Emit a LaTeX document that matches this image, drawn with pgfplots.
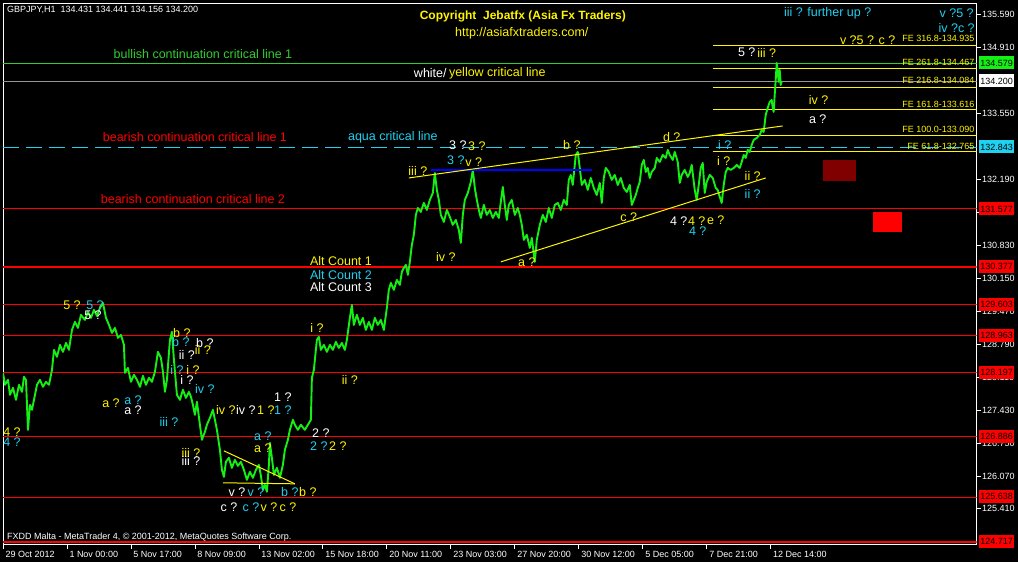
\documentclass[border=0pt]{standalone}
\usepackage{pgfplots}
\pgfplotsset{compat=1.18}
\usepackage{pgfplotstable}
\usepackage{fontspec}
\setmainfont{Liberation Sans}

\definecolor{mtgreen}{RGB}{20,240,20}
\definecolor{lgreen}{RGB}{50,205,50}
\definecolor{mtaqua}{RGB}{30,210,240}
\definecolor{mtyellow}{RGB}{255,245,0}
\definecolor{mtred}{RGB}{255,0,0}
\definecolor{mtgrey}{RGB}{150,150,150}
\definecolor{mtmaroon}{RGB}{128,0,0}
\definecolor{mtblue}{RGB}{0,0,255}

\newcommand\fa{\fontsize{12.5}{14}\selectfont}
\newcommand\fs{\fontsize{9}{10.5}\selectfont}

% GBPJPY H1, bar index (one pixel per bar) and price
\pgfplotstableread{
x p
3 128.197
5 127.950
8 128.053
10 127.744
13 127.888
16 127.641
19 127.950
22 127.806
24 128.115
26 128.053
28 127.023
30 127.538
32 127.435
35 127.744
37 127.950
40 128.053
43 127.909
46 128.012
49 127.950
52 128.259
54 128.670
57 128.526
60 128.773
63 128.629
66 128.814
69 128.670
72 129.082
75 129.247
78 129.123
81 129.391
85 129.288
88 129.453
91 129.329
94 129.494
97 129.370
100 129.535
103 129.638
106 129.329
109 129.185
112 129.020
115 129.123
118 128.917
121 128.979
124 128.773
125 128.197
128 128.300
131 128.012
134 128.156
137 128.053
140 127.909
143 128.135
146 127.950
149 128.094
152 128.012
155 128.218
158 128.629
161 128.505
163 128.218
165 127.806
167 128.053
170 128.876
172 129.041
174 128.465
177 127.744
180 127.641
183 127.847
186 127.682
189 127.806
191 127.703
193 127.538
195 127.332
197 127.600
200 127.126
202 126.817
205 126.982
207 127.126
210 127.270
213 127.435
215 127.229
217 127.023
220 126.611
222 126.199
224 126.055
226 126.364
229 126.446
232 126.240
235 126.405
238 126.281
241 126.364
244 126.199
247 125.993
250 126.158
253 126.034
256 126.199
259 126.302
261 126.075
263 125.788
265 125.890
267 125.747
269 126.302
270 126.755
272 126.446
274 126.096
277 126.240
280 126.034
283 126.302
285 126.611
288 126.817
290 127.023
293 127.229
295 127.126
298 127.023
301 127.126
305 127.023
308 127.126
311 127.229
312 128.094
314 128.259
317 128.876
319 128.938
321 128.670
324 128.773
327 128.629
330 128.773
333 128.670
336 128.835
339 128.711
342 128.814
345 128.670
347 128.876
350 129.329
352 129.597
354 129.185
357 129.391
360 129.185
363 129.329
366 129.082
369 129.247
372 129.082
375 129.329
378 129.185
381 129.288
384 129.082
387 129.535
389 129.906
391 130.050
394 129.906
397 130.112
400 130.009
402 130.277
404 130.359
406 130.421
408 130.215
410 130.483
412 130.833
414 131.039
416 131.450
418 131.594
421 131.512
424 131.697
427 131.553
430 131.759
433 131.903
435 132.315
437 131.965
439 131.759
441 131.450
444 131.306
447 131.553
450 131.409
453 131.244
456 131.347
459 131.142
461 130.874
463 131.450
465 131.759
468 131.903
471 132.130
473 132.377
475 132.006
477 131.759
479 131.553
481 131.388
484 131.656
487 131.450
490 131.553
493 131.388
496 131.512
499 131.388
501 131.718
503 132.027
505 131.656
507 131.347
509 131.656
512 131.759
515 131.450
518 131.594
520 131.450
522 131.244
524 130.936
527 131.039
530 130.771
532 130.977
535 130.483
537 130.936
540 131.244
543 131.450
546 131.306
549 131.594
552 131.388
555 131.656
558 131.697
561 131.553
564 131.759
567 131.656
569 132.171
571 132.274
573 132.068
576 132.686
578 132.748
580 132.418
582 132.068
585 132.171
588 131.965
591 132.212
594 132.006
597 131.862
600 132.109
602 131.697
604 132.212
606 132.418
609 132.336
612 132.171
615 132.274
618 132.068
621 132.212
624 132.006
627 131.924
630 132.068
632 131.656
634 131.759
636 131.862
638 132.006
640 132.130
642 132.480
644 132.583
646 132.336
648 132.418
650 132.212
652 132.336
655 132.418
657 132.624
660 132.542
663 132.686
666 132.624
668 132.789
670 132.686
673 132.583
675 132.748
678 132.542
680 132.109
682 132.274
685 132.377
688 132.233
690 132.315
692 132.480
695 131.965
697 131.759
699 132.068
701 132.418
703 132.521
705 131.903
707 132.130
710 132.274
713 132.212
716 132.006
718 131.965
720 131.821
722 131.697
724 132.068
726 132.336
728 132.418
731 132.377
734 132.418
737 132.480
740 132.418
742 132.542
744 132.686
746 132.624
748 132.789
750 132.748
752 132.892
754 132.995
757 133.036
760 133.098
762 133.201
764 133.160
766 133.510
768 133.654
770 133.778
772 133.819
773 133.654
774 133.572
775 133.922
776 134.231
777 134.581
778 134.396
779 134.190
780 134.437
781 134.128
782 134.200
}\pricedata

\begin{document}
\begin{tikzpicture}
\fill[black] (-3pt,-17pt) rectangle (1015pt,545pt);
\begin{axis}[
  at={(0,0)}, anchor=south west,
  scale only axis, width=974pt, height=542pt,
  xmin=3, xmax=977, ymin=124.655, ymax=135.816,
  axis line style={white, line width=0.8pt},
  tick align=outside, major tick length=4pt,
  tick style={white, line width=0.8pt},
  xtick pos=left, ytick pos=right, yticklabel pos=right,
  xtick={3,67,131,195,259,323,387,451,515,579,643,707,771},
  xticklabels={29 Oct 2012,1 Nov 00:00,5 Nov 17:00,8 Nov 09:00,13 Nov 02:00,15 Nov 18:00,20 Nov 11:00,23 Nov 03:00,27 Nov 20:00,30 Nov 12:00,5 Dec 05:00,7 Dec 21:00,12 Dec 14:00},
  xticklabel style={white, anchor=north west, font=\fs, xshift=-1pt, yshift=1pt},
  ytick={135.59,134.91,133.55,132.19,131.51,130.83,130.15,129.47,128.79,128.11,127.43,126.75,126.07,125.41},
  yticklabel style={white, anchor=west, font=\fs, xshift=-2pt,
    /pgf/number format/fixed, /pgf/number format/precision=3,
    /pgf/number format/fixed zerofill},
  /pgf/number format/assume math mode=true,
]
% horizontal critical lines
\addplot[lgreen, line width=1pt] coordinates {(3,134.579) (977,134.579)};
\addplot[mtgrey, line width=1pt] coordinates {(3,134.200) (977,134.200)};
\addplot[mtaqua, line width=1pt, dash pattern=on 16pt off 7pt] coordinates {(3,132.843) (977,132.843)};
\addplot[mtred, line width=1pt] coordinates {(3,131.577) (977,131.577)};
\addplot[mtred, line width=2.6pt] coordinates {(3,130.377) (977,130.377)};
\addplot[mtred, line width=1pt] coordinates {(3,129.603) (977,129.603)};
\addplot[mtred, line width=1pt] coordinates {(3,128.963) (977,128.963)};
\addplot[mtred, line width=1pt] coordinates {(3,128.197) (977,128.197)};
\addplot[mtred, line width=1pt] coordinates {(3,126.886) (977,126.886)};
\addplot[mtred, line width=1pt] coordinates {(3,125.638) (977,125.638)};
\addplot[mtred, line width=2pt] coordinates {(3,124.717) (977,124.717)};
% fibonacci expansion levels
\addplot[mtyellow, line width=1pt] coordinates {(713,134.935) (977,134.935)};
\addplot[mtyellow, line width=1pt] coordinates {(713,134.467) (977,134.467)};
\addplot[mtyellow, line width=1pt] coordinates {(713,134.084) (977,134.084)};
\addplot[mtyellow, line width=1pt] coordinates {(713,133.616) (977,133.616)};
\addplot[mtyellow, line width=1pt] coordinates {(713,133.090) (977,133.090)};
\addplot[mtyellow, line width=1pt] coordinates {(713,132.765) (977,132.765)};
% boxes
\fill[mtmaroon] (axis cs:823,132.583) rectangle (axis cs:856,132.150);
\fill[mtred] (axis cs:873,131.512) rectangle (axis cs:902,131.100);
% price
\addplot[mtgreen, line width=1.9pt, line join=round] table[x=x, y=p] {\pricedata};
% trend lines
\addplot[mtblue, line width=2pt] coordinates {(431,132.377) (592,132.377)};
\addplot[mtyellow, line width=1pt] coordinates {(409,132.212) (783,133.283)};
\addplot[mtyellow, line width=1pt] coordinates {(501,130.483) (766,132.212)};
\addplot[mtyellow, line width=1pt] coordinates {(224,126.590) (295,125.911)};
\addplot[mtyellow, line width=1pt] coordinates {(223,125.932) (295,125.911)};
\end{axis}

\begin{scope}[x=1pt, y=-1pt, shift={(-3pt,545pt)}, every node/.style={inner sep=0pt, font=\fa}]
\node[anchor=west, white, font=\fs] at (7,10) {GBPJPY,H1\ \ 134.431 134.441 134.156 134.200};
\node[mtyellow, font=\fontsize{12}{14}\selectfont\bfseries] at (523,16) {Copyright\ \ Jebatfx (Asia Fx Traders)};
\node[mtyellow] at (522,33) {http://asiafxtraders.com/};
\node[lgreen] at (203,54) {bullish continuation critical line 1};
\node[anchor=east, white] at (447,73) {white/};
\node[anchor=west, mtyellow] at (449,73) {yellow critical line};
\node[mtred] at (195,137) {bearish continuation critical line 1};
\node[mtaqua] at (393,137) {aqua critical line};
\node[mtred] at (193,199) {bearish continuation critical line 2};
\node[mtaqua] at (828,13) {iii ? further up ?};
\node[mtaqua] at (957,13) {v ?5 ?};
\node[mtaqua] at (957,28) {iv ?c ?};
\node[mtyellow] at (868,40) {v ?5 ? c ?};
\begin{scope}[every node/.style={inner sep=0pt, font=\fs, anchor=east, mtyellow}]
\node at (975,38) {FE 316.8-134.935};
\node at (975,62) {FE 261.8-134.467};
\node at (975,80) {FE 216.8-134.084};
\node at (975,104) {FE 161.8-133.616};
\node at (975,129) {FE 100.0-133.090};
\node at (975,146) {FE 61.8-132.765};
\end{scope}
\node[white] at (747,52) {5 ?};
\node[mtyellow] at (767,53) {iii ?};
\node[mtyellow] at (819,100) {iv ?};
\node[white] at (818,119) {a ?};
\node[mtaqua] at (725,145) {i ?};
\node[mtyellow] at (724,161) {i ?};
\node[mtyellow] at (753,176) {ii ?};
\node[mtaqua] at (753,194) {ii ?};
\node[mtyellow] at (672,137) {d ?};
\node[mtyellow] at (572,145) {b ?};
\node[white] at (458,145) {3 ?};
\node[mtyellow] at (477,146) {3 ?};
\node[mtaqua] at (456,160) {3 ?};
\node[mtyellow] at (474,162) {v ?};
\node[mtyellow] at (418,171) {iii ?};
\node[mtyellow] at (446,257) {iv ?};
\node[mtyellow] at (527,262) {a ?};
\node[mtyellow] at (629,217) {c ?};
\node[white] at (679,221) {4 ?};
\node[mtyellow] at (697,221) {4 ?};
\node[mtyellow] at (716,220) {e ?};
\node[mtaqua] at (698,231) {4 ?};
\node[anchor=west, mtyellow] at (310,261) {Alt Count 1};
\node[anchor=west, mtaqua] at (310,275) {Alt Count 2};
\node[anchor=west, white] at (310,287) {Alt Count 3};
\node[mtyellow] at (317,328) {i ?};
\node[mtyellow] at (350,380) {ii ?};
\node[mtyellow] at (72,305) {5 ?};
\node[mtaqua] at (95,305) {5 ?};
\node[white] at (93,315) {5 ?};
\node[mtyellow] at (182,333) {b ?};
\node[mtaqua] at (181,342) {b ?};
\node[white] at (205,343) {b ?};
\node[white] at (187,355) {ii ?};
\node[mtyellow] at (203,350) {ii ?};
\node[mtaqua] at (177,370) {i ?};
\node[mtyellow] at (193,370) {i ?};
\node[white] at (187,380) {i ?};
\node[mtaqua] at (205,389) {iv ?};
\node[mtyellow] at (111,403) {a ?};
\node[mtaqua] at (133,400) {a ?};
\node[white] at (133,410) {a ?};
\node[mtaqua] at (169,422) {iii ?};
\node[mtyellow] at (12,432) {4 ?};
\node[mtaqua] at (12,442) {4 ?};
\node[mtyellow] at (226,410) {iv ?};
\node[white] at (246,410) {iv ?};
\node[mtyellow] at (266,410) {1 ?};
\node[mtaqua] at (283,410) {1 ?};
\node[white] at (283,397) {1 ?};
\node[mtaqua] at (263,436) {a ?};
\node[mtyellow] at (263,448) {a ?};
\node[mtyellow] at (191,453) {iii ?};
\node[white] at (191,461) {iii ?};
\node[white] at (321,433) {2 ?};
\node[mtaqua] at (319,446) {2 ?};
\node[mtyellow] at (338,446) {2 ?};
\node[white] at (237,492) {v ?};
\node[mtaqua] at (256,492) {v ?};
\node[mtaqua] at (290,492) {b ?};
\node[mtyellow] at (308,492) {b ?};
\node[white] at (229,507) {c ?};
\node[mtaqua] at (251,507) {c ?};
\node[mtyellow] at (269,507) {v ?};
\node[mtyellow] at (288,507) {c ?};
\node[anchor=west, white, font=\fs] at (7,537) {FXDD Malta - MetaTrader 4, © 2001-2012, MetaQuotes Software Corp.};
% price labels on the right scale
\begin{scope}[every node/.style={anchor=west, font=\fs, text=black, inner xsep=1.5pt, inner ysep=0pt, minimum height=13pt}]
\node[fill=mtgreen] at (979,63) {134.579};
\node[fill=white] at (979,81) {134.200};
\node[fill=mtaqua] at (979,147) {132.843};
\node[fill=mtred] at (979,209) {131.577};
\node[fill=mtred] at (979,267) {130.377};
\node[fill=mtred] at (979,305) {129.603};
\node[fill=mtred] at (979,336) {128.963};
\node[fill=mtred] at (979,373) {128.197};
\node[fill=mtred] at (979,437) {126.886};
\node[fill=mtred] at (979,497) {125.638};
\node[fill=mtred] at (979,542) {124.717};
\end{scope}
\end{scope}
\end{tikzpicture}
\end{document}
